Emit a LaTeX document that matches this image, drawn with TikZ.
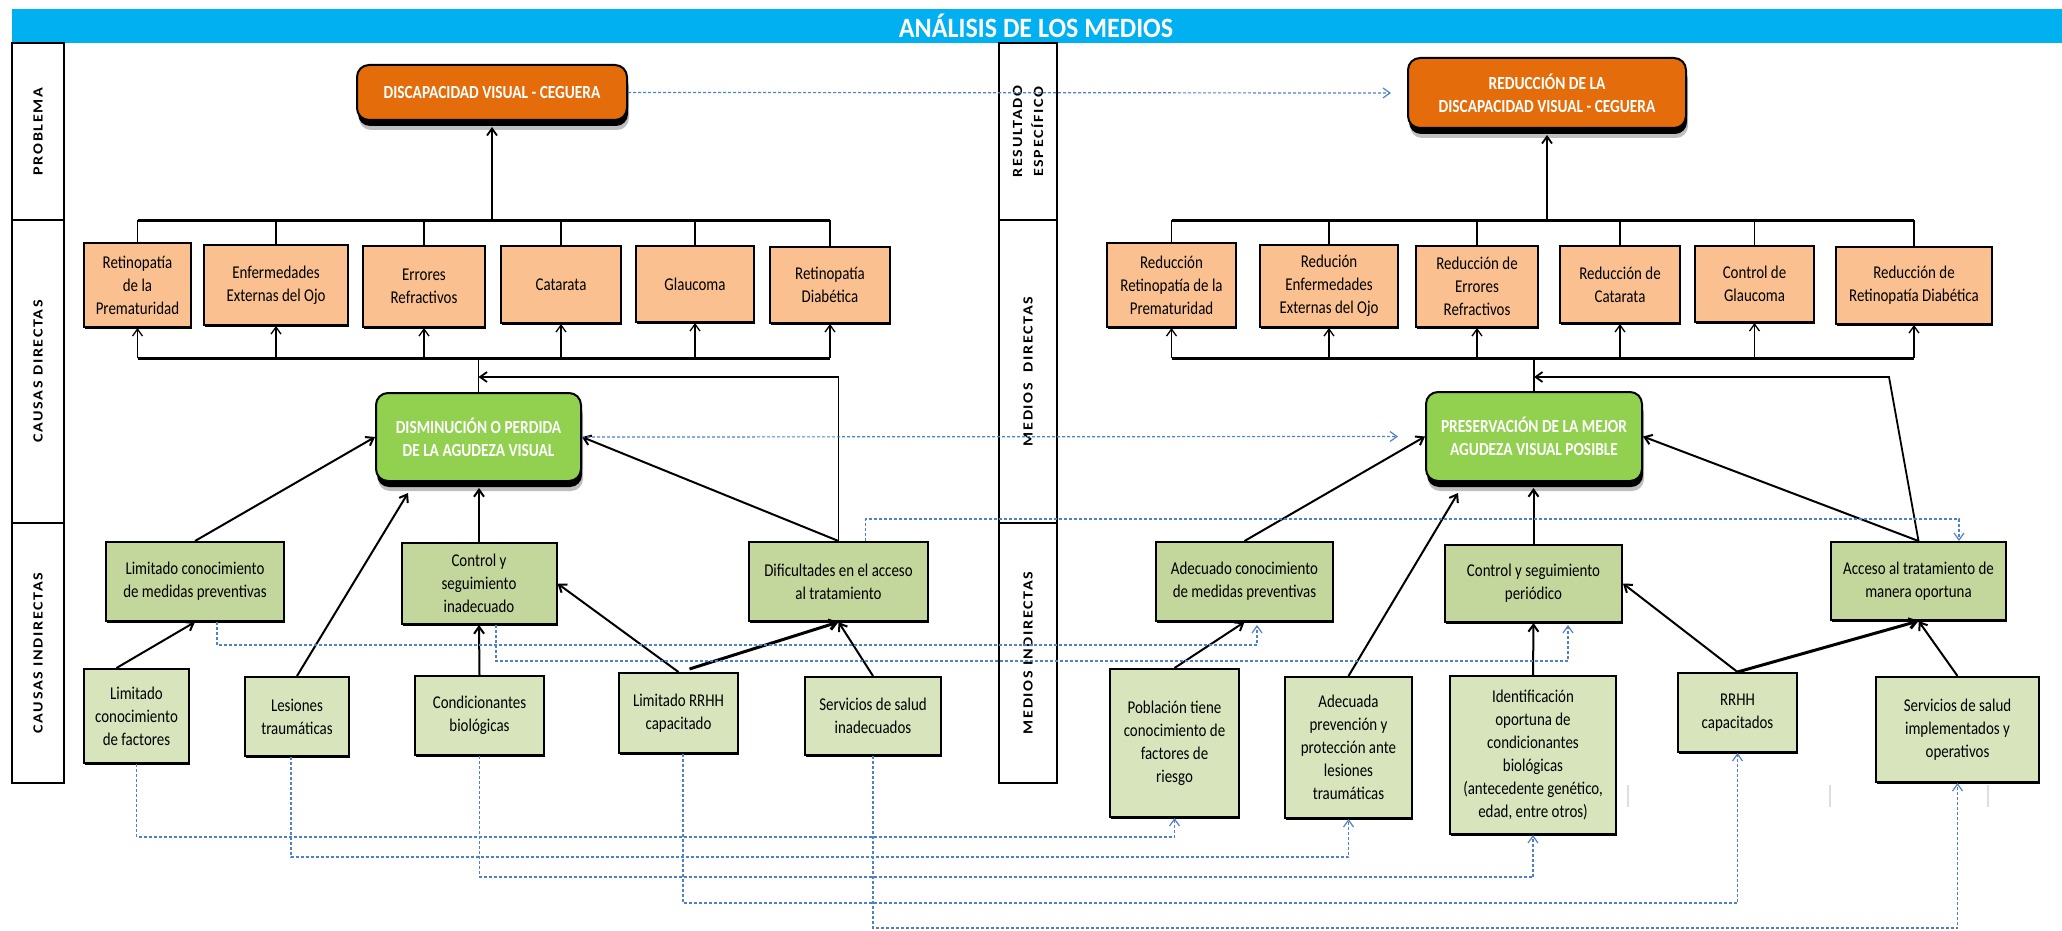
\documentclass[tikz,border=0pt]{standalone}
\usepackage{fontspec}
\setmainfont{Carlito}
\newfontfamily\labfont[FakeStretch=1.15,LetterSpace=12]{Carlito}
\newfontfamily\boxfont[FakeStretch=0.83]{Carlito}
\newfontfamily\titlefont[FakeStretch=0.93]{Carlito}
\usetikzlibrary{arrows.meta,shadows}
\definecolor{barblue}{RGB}{0,176,240}
\definecolor{ordark}{RGB}{228,108,10}
\definecolor{orlight}{RGB}{250,192,144}
\definecolor{grbright}{RGB}{146,208,80}
\definecolor{grmid}{RGB}{195,214,155}
\definecolor{grlight}{RGB}{215,228,188}
\definecolor{dblue}{RGB}{79,129,199}
\begin{document}
\begin{tikzpicture}[x=1pt,y=-1pt,
  sbox/.style={draw=black, line width=2pt, align=center, inner sep=2pt,
    font=\boxfont\fontsize{18}{23}\selectfont,
    drop shadow={shadow xshift=1pt,shadow yshift=-1.6pt,fill=black,opacity=1}},
  dcause/.style={sbox, fill=orlight},
  indone/.style={sbox, fill=grmid},
  indtwo/.style={sbox, fill=grlight},
  bigbox/.style={draw=black, line width=2pt, rounded corners=12pt, align=center,
    text=white, font=\boxfont\bfseries\fontsize{18.5}{23}\selectfont,
    drop shadow={shadow xshift=2pt,shadow yshift=-10pt,fill=black,opacity=0.25},
    drop shadow={shadow xshift=1pt,shadow yshift=-6pt,fill=black,opacity=1}},
  lab/.style={rotate=90, align=center, font=\labfont\bfseries\fontsize{14}{21}\selectfont},
  tip/.style={-{Straight Barb[length=7pt,width=10pt]}},
  arr/.style={tip, line width=2pt},
  thin/.style={line width=1.3pt},
  dsh/.style={draw=dblue, line width=1.2pt, dash pattern=on 3pt off 2pt,
    -{Straight Barb[length=7pt,width=10pt]}},
  frame/.style={line width=2.5pt}
]
\useasboundingbox (0,0) rectangle (2062,931);

% title bar
\fill[barblue] (12,9) rectangle (2062,43);
\node[text=white, font=\titlefont\bfseries\fontsize{28}{30}\selectfont] (title) at (1036,26) {ANÁLISIS DE LOS MEDIOS};

% side label columns
\draw[frame] (12,43) rectangle (64,783);
\draw[frame] (12,220) -- (64,220) (12,523) -- (64,523);
\draw[frame] (999,43) rectangle (1057,783);
\draw[frame] (999,220) -- (1057,220) (999,523) -- (1057,523);
\node[lab] (lprob) at (38,131.5) {PROBLEMA};
\node[lab] (lcd) at (38,371.5) {CAUSAS DIRECTAS};
\node[lab] (lci) at (38,653) {CAUSAS INDIRECTAS};
\node[lab] (lres) at (1028,131.5) {RESULTADO\\ESPECÍFICO};
\node[lab] (lmd) at (1028,371.5) {MEDIOS\ \ DIRECTAS};
\node[lab] (lmi) at (1028,653) {MEDIOS INDIRECTAS};

% top level: problem and result
\node[bigbox, fill=ordark, minimum width=270pt, minimum height=55pt] (pL) at (492,92.5) {DISCAPACIDAD VISUAL - CEGUERA};
\node[bigbox, fill=ordark, minimum width=278pt, minimum height=70pt] (pR) at (1547,93) {REDUCCIÓN DE LA\\DISCAPACIDAD VISUAL - CEGUERA};

% direct causes
\node[dcause, minimum width=107pt, minimum height=84pt] (d1) at (137.5,285) {Retinopatía\\de la\\Prematuridad};
\node[dcause, minimum width=144pt, minimum height=80pt] (d2) at (276,285) {Enfermedades\\Externas del Ojo};
\node[dcause, minimum width=122pt, minimum height=81pt] (d3) at (424,286.5) {Errores\\Refractivos};
\node[dcause, minimum width=120pt, minimum height=77pt] (d4) at (561,284.5) {Catarata};
\node[dcause, minimum width=118pt, minimum height=76pt] (d5) at (695,284) {Glaucoma};
\node[dcause, minimum width=120pt, minimum height=76pt] (d6) at (830,285) {Retinopatía\\Diabética};

% direct means
\node[dcause, minimum width=129pt, minimum height=84pt] (e1) at (1171.5,285) {Reducción\\Retinopatía de la\\Prematuridad};
\node[dcause, minimum width=138pt, minimum height=82pt] (e2) at (1329,286) {Redución\\Enfermedades\\Externas del Ojo};
\node[dcause, minimum width=122pt, minimum height=81pt] (e3) at (1477,286.5) {Reducción de\\Errores\\Refractivos};
\node[dcause, minimum width=120pt, minimum height=77pt] (e4) at (1620,284.5) {Reducción de\\Catarata};
\node[dcause, minimum width=119pt, minimum height=76pt] (e5) at (1754.5,284) {Control de\\Glaucoma};
\node[dcause, minimum width=156pt, minimum height=77pt] (e6) at (1914,285.5) {Reducción de\\Retinopatía Diabética};

% central effect boxes
\node[bigbox, fill=grbright, minimum width=205pt, minimum height=88pt] (gL) at (478.5,437) {DISMINUCIÓN O PERDIDA\\DE LA AGUDEZA VISUAL};
\node[bigbox, fill=grbright, minimum width=216pt, minimum height=89pt] (gR) at (1534,436.5) {PRESERVACIÓN DE LA MEJOR\\AGUDEZA VISUAL POSIBLE};

% indirect causes, first level
\node[indone, minimum width=178pt, minimum height=79pt] (i1) at (195,581.5) {Limitado conocimiento\\de medidas preventivas};
\node[indone, minimum width=155pt, minimum height=81pt] (i2) at (479,583.5) {Control y\\seguimiento\\inadecuado};
\node[indone, minimum width=179pt, minimum height=79pt] (i3) at (838.5,581.5) {Dificultades en el acceso\\al tratamiento};

% indirect means, first level
\node[indone, minimum width=177pt, minimum height=79pt] (j1) at (1244.5,581.5) {Adecuado conocimiento\\de medidas preventivas};
\node[indone, minimum width=177pt, minimum height=77pt] (j2) at (1533.5,583.5) {Control y seguimiento\\periódico};
\node[indone, minimum width=175pt, minimum height=78pt] (j3) at (1918.5,581) {Acceso al tratamiento de\\manera oportuna};

% indirect causes, second level
\node[indtwo, minimum width=105pt, minimum height=94pt] (k1) at (136.5,716) {Limitado\\conocimiento\\de factores};
\node[indtwo, minimum width=104pt, minimum height=79pt] (k2) at (297,716.5) {Lesiones\\traumáticas};
\node[indtwo, minimum width=129pt, minimum height=79pt] (k3) at (479.5,715.5) {Condicionantes\\biológicas};
\node[indtwo, minimum width=119pt, minimum height=80pt] (k4) at (678.5,713) {Limitado RRHH\\capacitado};
\node[indtwo, minimum width=136pt, minimum height=78pt] (k5) at (873,716) {Servicios de salud\\inadecuados};

% indirect means, second level
\node[indtwo, minimum width=129pt, minimum height=148pt] (m1) at (1174.5,743) {Población tiene\\conocimiento de\\factores de\\riesgo};
\node[indtwo, minimum width=127pt, minimum height=141pt] (m2) at (1348.5,747.5) {Adecuada\\prevención y\\protección ante\\lesiones\\traumáticas};
\node[indtwo, minimum width=166pt, minimum height=158pt] (m3) at (1533,755) {Identificación\\oportuna de\\condicionantes\\biológicas\\(antecedente genético,\\edad, entre otros)};
\node[indtwo, minimum width=119pt, minimum height=79pt] (m4) at (1737.5,712.5) {RRHH\\capacitados};
\node[indtwo, minimum width=163pt, minimum height=105pt] (m5) at (1957.5,729.5) {Servicios de salud\\implementados y\\operativos};

% faint vertical marks
\draw[gray!25, line width=1.2pt] (1628,785) -- (1628,807) (1830,785) -- (1830,807) (1988,785) -- (1988,807);

% brackets
\coordinate (tl) at (0,220);
\coordinate (bl) at (0,358);
\draw[line width=3pt] (d1.north |- tl) -- (d6.north |- tl);
\draw[line width=3pt] (e1.north |- tl) -- (e6.north |- tl);
\foreach \n in {d1,d2,d3,d4,d5,d6,e1,e2,e3,e4,e5,e6}
  \draw[thin] (\n.north |- tl) -- (\n.north);
\draw[tip, line width=1.8pt, shorten >=6pt] (pL.south |- tl) -- (pL.south);
\draw[tip, line width=1.8pt, shorten >=6pt] (pR.south |- tl) -- (pR.south);
\draw[line width=3pt] (d1.south |- bl) -- (d6.south |- bl);
\draw[line width=3pt] (e1.south |- bl) -- (e6.south |- bl);
\foreach \n in {d1,d2,d3,d4,d5,d6,e1,e2,e3,e4,e5,e6}
  \draw[tip, thin] (\n.south |- bl) -- (\n.south);
\draw[thin] (gL.north) -- (gL.north |- bl);
\draw[thin] (gR.north) -- (gR.north |- bl);

% return lines to the central stem
\coordinate (rtL) at (838.5,377);
\coordinate (rtR) at (1889,377);
\draw[arr, line width=1.8pt] (i3.north) -- (rtL) -- (rtL -| gL.north);
\draw[arr, line width=1.8pt] (j3.north) -- (rtR) -- (rtR -| gR.north);

% causes into the central effect
\draw[arr] (i1.north) -- (gL.west);
\draw[arr] (k2.north) -- ([xshift=33pt,yshift=-11pt]gL.south west);
\draw[arr, shorten >=6pt] (i2.north) -- (i2.north |- gL.south);
\draw[arr] (i3.north) -- (gL.east);
\draw[arr] ([xshift=-20pt]k1.north) -- (i1.south);
\draw[arr] (k3.north) -- (i2.south);
\draw[arr] (k4.north) -- (i2.east);
\draw[arr, line width=3pt] ([xshift=11pt,yshift=3pt]k4.north) -- (i3.south);
\draw[arr] (k5.north) -- (i3.south);

% means into the central objective
\draw[arr] (j1.north) -- (gR.west);
\draw[arr] (m2.north) -- ([xshift=33pt,yshift=-11pt]gR.south west);
\draw[arr, shorten >=6pt] (j2.north) -- (j2.north |- gR.south);
\draw[arr] (j3.north) -- (gR.east);
\draw[arr] (m1.north) -- (j1.south);
\draw[arr] (m3.north) -- (j2.south);
\draw[arr] (m4.north) -- (j2.east);
\draw[arr, line width=3pt] (m4.north) -- (j3.south);
\draw[arr] (m5.north) -- (j3.south);

% correspondences between causes and means
\draw[dsh, shorten >=16pt] (pL.east) -- (pR.west);
\draw[dsh, shorten >=27pt] (gL.east) -- (gR.west);
\coordinate (c1) at (1000,519);
\coordinate (c2) at (1000,645);
\coordinate (c3) at (1000,661);
\coordinate (c4) at (1000,837);
\coordinate (c5) at (1000,857);
\coordinate (c6) at (1000,877);
\coordinate (c7) at (1000,903);
\coordinate (c8) at (1000,928);
\draw[dsh] ([xshift=27pt]i3.north) |- (c1) -| ([xshift=40.5pt]j3.north);
\draw[dsh, shorten >=3pt] ([xshift=22pt]i1.south) |- (c2) -| ([xshift=12.5pt]j1.south);
\draw[dsh, shorten >=2pt] ([xshift=17pt]i2.south) |- (c3) -| ([xshift=34.5pt]j2.south);
\draw[dsh] (k1.south) |- (c4) -| (m1.south);
\draw[dsh] ([xshift=-6pt]k2.south) |- (c5) -| (m2.south);
\draw[dsh] (k3.south) |- (c6) -| (m3.south);
\draw[dsh] ([xshift=4.5pt]k4.south) |- (c7) -| (m4.south);
\draw[dsh] (k5.south) |- (c8) -| (m5.south);
\end{tikzpicture}
\end{document}
